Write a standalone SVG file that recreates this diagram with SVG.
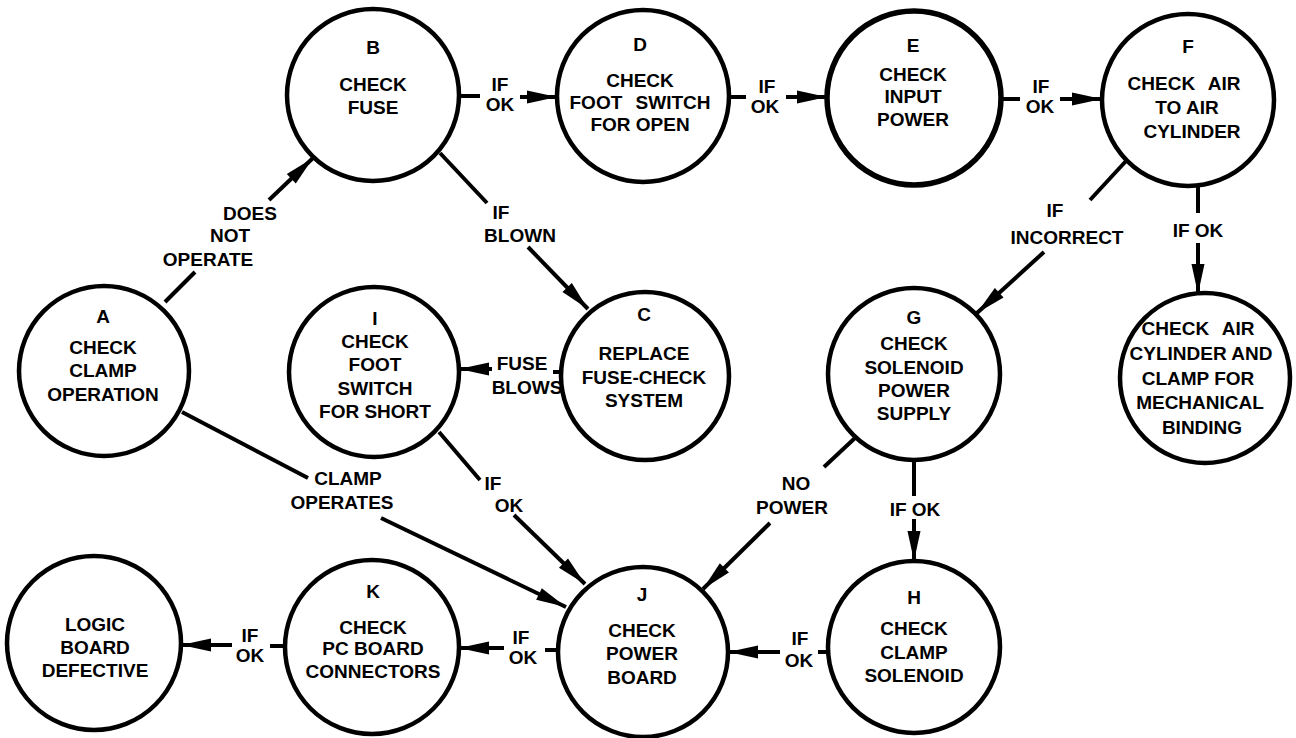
<svg xmlns="http://www.w3.org/2000/svg" width="1296" height="738" viewBox="0 0 1296 738">
<defs>
<style>
.n{fill:#fff;stroke:#000;stroke-width:4.5}
.t{font-family:"Liberation Sans",Arial,sans-serif;font-weight:bold;font-size:19px;fill:#000;text-anchor:middle}
.w{word-spacing:8px}
.c line{stroke:#000;stroke-width:4;stroke-linecap:butt}
.a{marker-end:url(#ah)}
</style>
<marker id="ah" markerUnits="userSpaceOnUse" markerWidth="34" markerHeight="16" refX="30" refY="7" orient="auto" overflow="visible">
<path d="M0,0.5 L30,7 L0,13.5 z" fill="#000"/>
</marker>
</defs>
<rect width="1296" height="738" fill="#fff"/>
<g class="c" id="connectors">
<line x1="165" y1="302" x2="195" y2="272"/>
<line class="a" x1="269" y1="200" x2="313" y2="158"/>
<line x1="459" y1="96" x2="480" y2="96"/>
<line class="a" x1="520" y1="97" x2="557" y2="97"/>
<line x1="729" y1="97" x2="746" y2="97"/>
<line class="a" x1="786" y1="97" x2="827" y2="97"/>
<line x1="1001" y1="99" x2="1020" y2="99"/>
<line class="a" x1="1060" y1="99" x2="1102" y2="99"/>
<line x1="440" y1="153" x2="487" y2="203"/>
<line class="a" x1="528" y1="247" x2="588" y2="309"/>
<line x1="563" y1="372" x2="553" y2="372"/>
<line class="a" x1="492" y1="369" x2="459" y2="369"/>
<line x1="182" y1="412" x2="308" y2="478"/>
<line class="a" x1="381" y1="518" x2="566" y2="607"/>
<line x1="439" y1="432" x2="480" y2="480"/>
<line class="a" x1="514" y1="515" x2="585" y2="584"/>
<line x1="1126" y1="161" x2="1090" y2="200"/>
<line class="a" x1="1044" y1="252" x2="977" y2="313"/>
<line x1="1198" y1="185" x2="1198" y2="213"/>
<line class="a" x1="1198" y1="243" x2="1198" y2="294"/>
<line x1="855" y1="438" x2="824" y2="467"/>
<line class="a" x1="770" y1="523" x2="703" y2="589"/>
<line x1="914" y1="460" x2="914" y2="496"/>
<line class="a" x1="914" y1="519" x2="914" y2="561"/>
<line x1="830" y1="652" x2="818" y2="652"/>
<line class="a" x1="780" y1="652" x2="728" y2="652"/>
<line x1="560" y1="650" x2="545" y2="650"/>
<line class="a" x1="504" y1="648" x2="459" y2="648"/>
<line x1="287" y1="646" x2="270" y2="646"/>
<line class="a" x1="232" y1="645" x2="181" y2="645"/>
</g>
<g id="edge-labels" class="t">
<text x="250" y="220">DOES</text>
<text x="230" y="242">NOT</text>
<text x="208" y="266">OPERATE</text>
<text x="500" y="91">IF</text>
<text x="500" y="111">OK</text>
<text x="767" y="93">IF</text>
<text x="765" y="113">OK</text>
<text x="1041" y="93">IF</text>
<text x="1040" y="113">OK</text>
<text x="501" y="219">IF</text>
<text x="520" y="242">BLOWN</text>
<text x="1055" y="217">IF</text>
<text x="1067" y="244">INCORRECT</text>
<text x="1198" y="237">IF OK</text>
<text x="522" y="370">FUSE</text>
<text x="527" y="394">BLOWS</text>
<text x="348" y="485">CLAMP</text>
<text x="342" y="509">OPERATES</text>
<text x="493" y="490">IF</text>
<text x="509" y="512">OK</text>
<text x="796" y="490">NO</text>
<text x="792" y="514">POWER</text>
<text x="915" y="516">IF OK</text>
<text x="800" y="645">IF</text>
<text x="799" y="667">OK</text>
<text x="521" y="644">IF</text>
<text x="523" y="664">OK</text>
<text x="250" y="642">IF</text>
<text x="250" y="662">OK</text>
</g>
<g id="A"><circle class="n" cx="104" cy="371" r="85"/>
<text class="t"><tspan x="103" y="323">A</tspan><tspan x="103" y="354">CHECK</tspan><tspan x="103" y="377">CLAMP</tspan><tspan x="103" y="401">OPERATION</tspan></text></g>
<g id="B"><circle class="n" cx="373" cy="95" r="86"/>
<text class="t"><tspan x="373" y="54">B</tspan><tspan x="373" y="91">CHECK</tspan><tspan x="373" y="114">FUSE</tspan></text></g>
<g id="C"><circle class="n" cx="645" cy="376" r="84"/>
<text class="t"><tspan x="644" y="321">C</tspan><tspan x="644" y="360">REPLACE</tspan><tspan x="644" y="384">FUSE-CHECK</tspan><tspan x="644" y="407">SYSTEM</tspan></text></g>
<g id="D"><circle class="n" cx="643" cy="96" r="86"/>
<text class="t"><tspan x="640" y="51">D</tspan><tspan x="640" y="87">CHECK</tspan><tspan class="w" x="640" y="109">FOOT SWITCH</tspan><tspan x="640" y="131">FOR OPEN</tspan></text></g>
<g id="E"><circle class="n" cx="914" cy="98" r="87" style="stroke-width:5.5"/>
<text class="t"><tspan x="913" y="52">E</tspan><tspan x="913" y="81">CHECK</tspan><tspan x="913" y="103">INPUT</tspan><tspan x="913" y="126">POWER</tspan></text></g>
<g id="F"><circle class="n" cx="1188" cy="100" r="86"/>
<text class="t"><tspan x="1188" y="53">F</tspan><tspan class="w" x="1184" y="90">CHECK AIR</tspan><tspan x="1187" y="114">TO AIR</tspan><tspan x="1192" y="138">CYLINDER</tspan></text></g>
<g id="G"><circle class="n" cx="914" cy="374" r="86"/>
<text class="t"><tspan x="914" y="324">G</tspan><tspan x="914" y="350">CHECK</tspan><tspan x="914" y="374">SOLENOID</tspan><tspan x="914" y="397">POWER</tspan><tspan x="914" y="420">SUPPLY</tspan></text></g>
<g id="H"><circle class="n" cx="914" cy="647" r="86"/>
<text class="t"><tspan x="914" y="604">H</tspan><tspan x="914" y="635">CHECK</tspan><tspan x="914" y="659">CLAMP</tspan><tspan x="914" y="682">SOLENOID</tspan></text></g>
<g id="I"><circle class="n" cx="374" cy="372" r="85"/>
<text class="t"><tspan x="375" y="325">I</tspan><tspan x="375" y="348">CHECK</tspan><tspan x="375" y="371">FOOT</tspan><tspan x="375" y="395">SWITCH</tspan><tspan x="375" y="418">FOR SHORT</tspan></text></g>
<g id="J"><circle class="n" cx="643" cy="652" r="85"/>
<text class="t"><tspan x="642" y="601">J</tspan><tspan x="642" y="637">CHECK</tspan><tspan x="642" y="660">POWER</tspan><tspan x="642" y="684">BOARD</tspan></text></g>
<g id="K"><circle class="n" cx="372" cy="647" r="87"/>
<text class="t"><tspan x="373" y="598">K</tspan><tspan x="373" y="634">CHECK</tspan><tspan x="373" y="655">PC BOARD</tspan><tspan x="373" y="678">CONNECTORS</tspan></text></g>
<g id="L"><circle class="n" cx="94" cy="643" r="87"/>
<text class="t"><tspan x="95" y="631">LOGIC</tspan><tspan x="95" y="654">BOARD</tspan><tspan x="95" y="677">DEFECTIVE</tspan></text></g>
<g id="M"><circle class="n" cx="1205" cy="378" r="85"/>
<text class="t"><tspan class="w" x="1198" y="335">CHECK AIR</tspan><tspan x="1201" y="360">CYLINDER AND</tspan><tspan x="1198" y="385">CLAMP FOR</tspan><tspan x="1200" y="409">MECHANICAL</tspan><tspan x="1202" y="434">BINDING</tspan></text></g>
</svg>
